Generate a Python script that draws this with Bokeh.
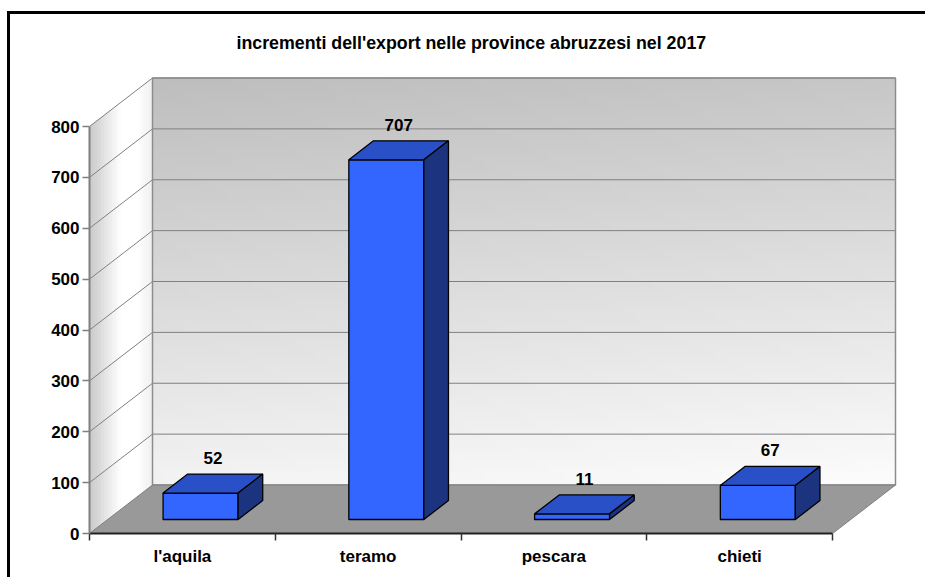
import numpy as np
from bokeh.plotting import figure
from bokeh.models import Range1d, LinearAxis, FixedTicker, ColumnDataSource, InlineStyleSheet
from bokeh.embed import file_html
from bokeh.resources import INLINE
from bokeh.core.properties import value

# ---- data ----
categories = ["l'aquila", "teramo", "pescara", "chieti"]
increments = [52, 707, 11, 67]
y_ticks = [0, 100, 200, 300, 400, 500, 600, 700, 800]
title_text = "incrementi dell'export nelle province abruzzesi nel 2017"

# ---- layout / style constants ----
FONT = "Liberation Sans"
W, H = 925, 577
ML, MR, MT, MB = 89, 20, 65, 44
PX_PER_SLOT = 185.75
PX_PER_UNIT = 407 / 800
DX = 63 / PX_PER_SLOT          # depth offset (x, slot units)
DY = 48.5 / PX_PER_UNIT        # depth offset (y, value units)
F1, F2 = 0.289, 0.68           # bar depth position (front, back)
BAR_W = 75 / PX_PER_SLOT
n = len(categories)
YMAX = y_ticks[-1]

frame_css = InlineStyleSheet(css="""
:host::after {
  content: "";
  position: absolute;
  left: 7px; top: 11px; right: 0px; bottom: 0px;
  border-left: 3px solid black;
  border-top: 3px solid black;
  pointer-events: none;
  z-index: 100;
}
""")

p = figure(width=W, height=H, output_backend="svg", toolbar_location=None,
           x_range=Range1d(0, (W - ML - MR) / PX_PER_SLOT),
           y_range=Range1d(0, (H - MT - MB) / PX_PER_UNIT),
           min_border_left=ML, min_border_right=MR, min_border_top=MT, min_border_bottom=MB,
           x_axis_type=None, y_axis_type=None, title=title_text,
           stylesheets=[frame_css])
p.outline_line_color = None
p.background_fill_color = "white"
p.border_fill_color = "white"

p.title.text_font = FONT
p.title.text_font_size = "17.8px"
p.title.text_font_style = "bold"
p.title.text_color = "black"
p.title.align = "left"
p.title.offset = 147
p.title.standoff = 26

# ---- back wall (gradient image) ----
NR, NC = 64, 128
vfrac = np.linspace(1, 0, NR)[:, None]   # row 0 is bottom -> 1 = bottom
ufrac = np.linspace(0, 1, NC)[None, :]
t = np.clip(0.85 * vfrac + 0.15 * ufrac, 0, 1)
g = (190 + (252 - 190) * t).astype(np.uint8)
img = np.empty((NR, NC), dtype=np.uint32)
view = img.view(dtype=np.uint8).reshape((NR, NC, 4))
view[:, :, 0] = g
view[:, :, 1] = g
view[:, :, 2] = g
view[:, :, 3] = 255
p.image_rgba(image=[img], x=DX, y=DY, dw=n, dh=YMAX)

# ---- side wall (gradient strips) ----
K = 30
d = np.linspace(0, 1, K + 1)
sxs, sys_, scol = [], [], []
for k in range(K):
    d0, d1 = d[k], d[k + 1]
    dm = 0.5 * (d0 + d1)
    gl = 200 + 55 * min(dm / 0.5, 1.0)
    if dm > 0.75:
        gl -= (dm - 0.75) / 0.25 * 15
    gl = int(gl)
    sxs.append([d0 * DX, d1 * DX, d1 * DX, d0 * DX])
    sys_.append([d0 * DY, d1 * DY, YMAX + d1 * DY, YMAX + d0 * DY])
    scol.append("#%02x%02x%02x" % (gl, gl, gl))
p.patches(xs=sxs, ys=sys_, fill_color=scol, line_color=scol, line_width=0.6)

# ---- gridlines ----
gv = [v for v in y_ticks if v > 0]
p.multi_line(xs=[[0, DX] for v in gv], ys=[[v, v + DY] for v in gv],
             line_color="#808080", line_width=1)
p.multi_line(xs=[[DX, n + DX] for v in gv], ys=[[v + DY, v + DY] for v in gv],
             line_color="#808080", line_width=1)
# back wall border
p.patch(x=[DX, n + DX, n + DX, DX], y=[DY, DY, YMAX + DY, YMAX + DY],
        fill_color=None, line_color="#8c8c8c", line_width=1.5)

# ---- floor ----
p.patch(x=[0, n, n + DX, DX], y=[0, 0, DY, DY],
        fill_color="#999999", line_color="#7f7f7f", line_width=1)

# ---- bars ----
vals = np.array(increments, dtype=float)
centers = np.arange(n) + 0.5
x0 = centers - BAR_W / 2 + F1 * DX
x1 = x0 + BAR_W
yb = np.full(n, F1 * DY)
yt = vals + F1 * DY
ddx = (F2 - F1) * DX
ddy = (F2 - F1) * DY

front = ColumnDataSource(dict(left=x0, right=x1, bottom=yb, top=yt))
p.quad(left="left", right="right", bottom="bottom", top="top", source=front,
       fill_color="#3366FF", line_color="black", line_width=1.3)
top_src = ColumnDataSource(dict(
    xs=[[a, b, b + ddx, a + ddx] for a, b in zip(x0, x1)],
    ys=[[h, h, h + ddy, h + ddy] for h in yt]))
p.patches(xs="xs", ys="ys", source=top_src, fill_color="#2A50C8",
          line_color="black", line_width=1.3)
side_src = ColumnDataSource(dict(
    xs=[[b, b + ddx, b + ddx, b] for b in x1],
    ys=[[lo, lo + ddy, h + ddy, h] for lo, h in zip(yb, yt)]))
p.patches(xs="xs", ys="ys", source=side_src, fill_color="#1C3480",
          line_color="black", line_width=1.3)

# ---- value labels ----
lab = ColumnDataSource(dict(x=centers + 0.485 * DX, y=vals + F2 * DY,
                            t=[str(v) for v in increments]))
p.text(x="x", y="y", text="t", source=lab, text_align="center", text_baseline="middle",
       y_offset=-16, text_font=value(FONT), text_font_size="17px",
       text_font_style="bold", text_color="black")

# ---- axes ----
yaxis = LinearAxis(ticker=FixedTicker(ticks=y_ticks), bounds=(0, YMAX))
yaxis.axis_line_color = "#808080"
yaxis.axis_line_width = 2
yaxis.major_tick_line_color = "#808080"
yaxis.major_tick_line_width = 1.5
yaxis.major_tick_out = 7
yaxis.major_tick_in = 0
yaxis.minor_tick_line_color = None
yaxis.major_label_standoff = 3
yaxis.major_label_text_font = FONT
yaxis.major_label_text_font_size = "17px"
yaxis.major_label_text_font_style = "bold"
yaxis.major_label_text_color = "black"
p.add_layout(yaxis, "left")

xaxis = LinearAxis(ticker=FixedTicker(ticks=list(centers), minor_ticks=list(range(n + 1))),
                   bounds=(0, n))
xaxis.major_label_overrides = {float(c): cat for c, cat in zip(centers, categories)}
xaxis.axis_line_color = "#222222"
xaxis.axis_line_width = 2
xaxis.major_tick_line_color = None
xaxis.major_tick_out = 0
xaxis.major_tick_in = 0
xaxis.minor_tick_line_color = "#333333"
xaxis.minor_tick_line_width = 1.5
xaxis.minor_tick_out = 7
xaxis.minor_tick_in = 0
xaxis.major_label_standoff = 6
xaxis.major_label_text_font = FONT
xaxis.major_label_text_font_size = "17px"
xaxis.major_label_text_font_style = "bold"
xaxis.major_label_text_color = "black"
p.add_layout(xaxis, "below")

open("out.html", "w").write(file_html(p, INLINE))
